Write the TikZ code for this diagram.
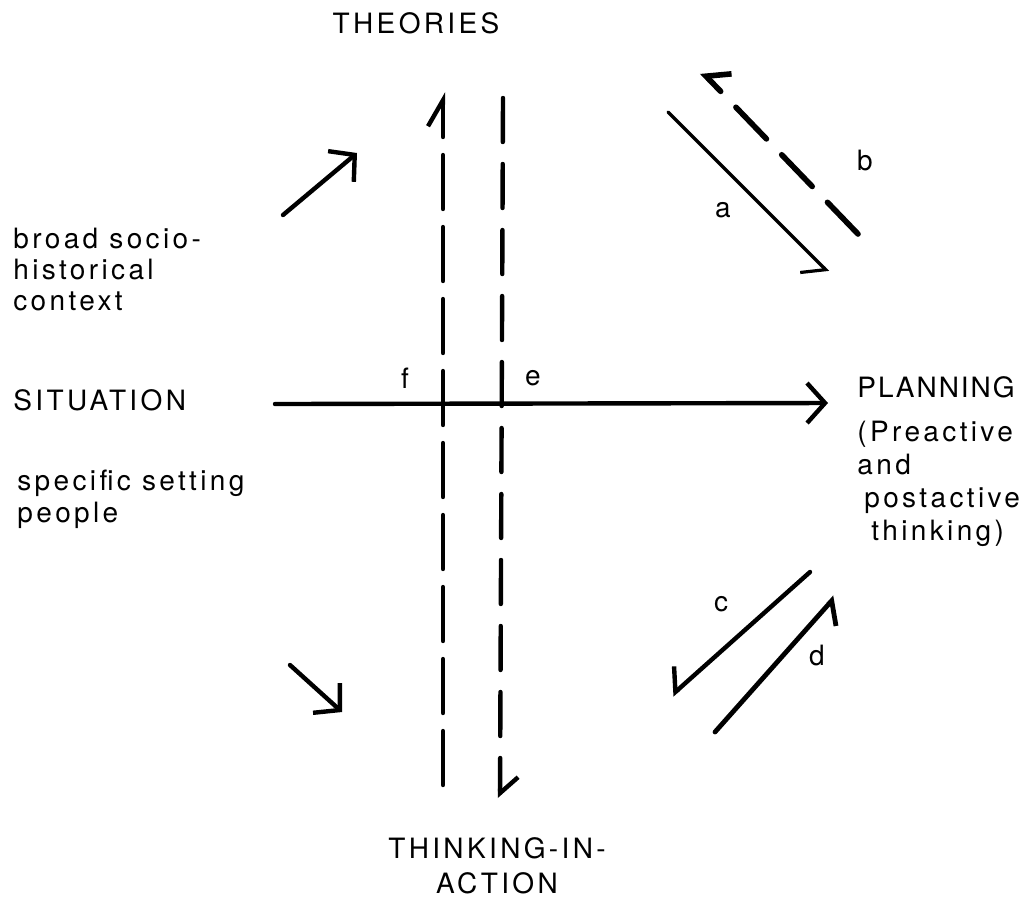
\documentclass[tikz,border=0pt]{standalone}
\usepackage{fontspec}
\setmainfont[LetterSpace=12]{TeX Gyre Heros}
\usetikzlibrary{arrows.meta}
\tikzset{
	signal/.style = {
		line width=2.2pt,
		line cap=round,
		-{Straight Barb[length=9pt, width=20pt]}
	},
	halfsignal/.style = {
		line width=2.2pt,
		line cap=round,
		-{Straight Barb[harpoon, length=13pt, width=15pt]}
	},
	swapsignal/.style = {
		line width=2.2pt,
		line cap=round,
		-{Straight Barb[harpoon, swap, length=8pt, width=20pt]}
	},
	heading/.style = {
		font=\fontsize{14}{17.5}\selectfont,
		inner sep=0pt,
		align=center
	},
	note/.style = {
		font=\fontsize{14}{15.5}\selectfont,
		inner sep=0pt,
		align=left
	},
	tag/.style = {
		font=\fontsize{14}{15}\selectfont,
		inner sep=0pt
	}
}

\begin{document}
\begin{tikzpicture}[x=0.5pt, y=-0.5pt]
		
		\useasboundingbox (0,0) rectangle (1022,902);
		
		% --- Texte ---
		\node [heading, anchor=base] (theories) at (416,33) {THEORIES};
		\node [heading, anchor=base west] (situation) at (13,410) {SITUATION};
		\node [heading, anchor=base west, font=\fontsize{14}{17.5}\selectfont\addfontfeatures{LetterSpace=7}] (planning) at (857,397) {PLANNING};
		\node [heading, anchor=base] (tia) at (497,893) {THINKING-IN-\\ACTION};
		
		\node [note, anchor=base west] (context) at (13,310) {broad socio-\\historical\\context};
		\node [note, anchor=base west, font=\fontsize{14}{16}\selectfont] (setting) at (17,522) {specific setting\\people};
		\node [note, anchor=base west, font=\fontsize{14}{16.5}\selectfont] (thinking) at (857,540) {(Preactive\\and\\\hspace{3.5pt}postactive\\\hspace{7pt}thinking)};
		
		% --- Enden der Pfeile ---
		\coordinate (sit) at (275,404);
		\coordinate (plan) at (828,403);
		\coordinate (fbot) at (443,785);
		\coordinate (ftop) at (443,92);
		\coordinate (etop) at (503,98);
		\coordinate (ebot) at (500,798);
		\coordinate (up1) at (283,215);
		\coordinate (up2) at (357,153);
		\coordinate (dn1) at (290,665);
		\coordinate (dn2) at (342,712);
		\coordinate (a1) at (668,112);
		\coordinate (a2) at (828,272);
		\coordinate (b1) at (858,234);
		\coordinate (b2) at (702,72);
		\coordinate (c1) at (810,572);
		\coordinate (c2) at (672,695);
		\coordinate (d1) at (715,732);
		\coordinate (d2) at (835,597);
		
		% --- Verbindungen ---
		\draw [signal] (sit) -- (plan);
		\draw [signal] (up1) -- (up2);
		\draw [signal] (dn1) -- (dn2);
		\draw [halfsignal, dash pattern=on 27pt off 9pt] (fbot) -- (ftop);
		\draw [halfsignal, -{Straight Barb[harpoon, length=8pt, width=18pt]}, dash pattern=on 22pt off 11pt] (etop) -- (ebot);
		\draw [swapsignal, line width=1.6pt] (a1) -- (a2);
		\draw [swapsignal, line width=2.8pt, dash pattern=on 22pt off 11pt] (b1) -- (b2);
		\draw [swapsignal] (c1) -- (c2);
		\draw [swapsignal, line width=2.4pt] (d1) -- (d2);
		
		% Buchstaben an den Pfeilen
		\node [tag] (f) at (405,378) {f};
		\node [tag] (e) at (533,378) {e};
		\node [tag] (a) at (723,210) {a};
		\node [tag] (b) at (865,160) {b};
		\node [tag] (c) at (721,604) {c};
		\node [tag] (d) at (817,655) {d};
		
	\end{tikzpicture}
\end{document}
